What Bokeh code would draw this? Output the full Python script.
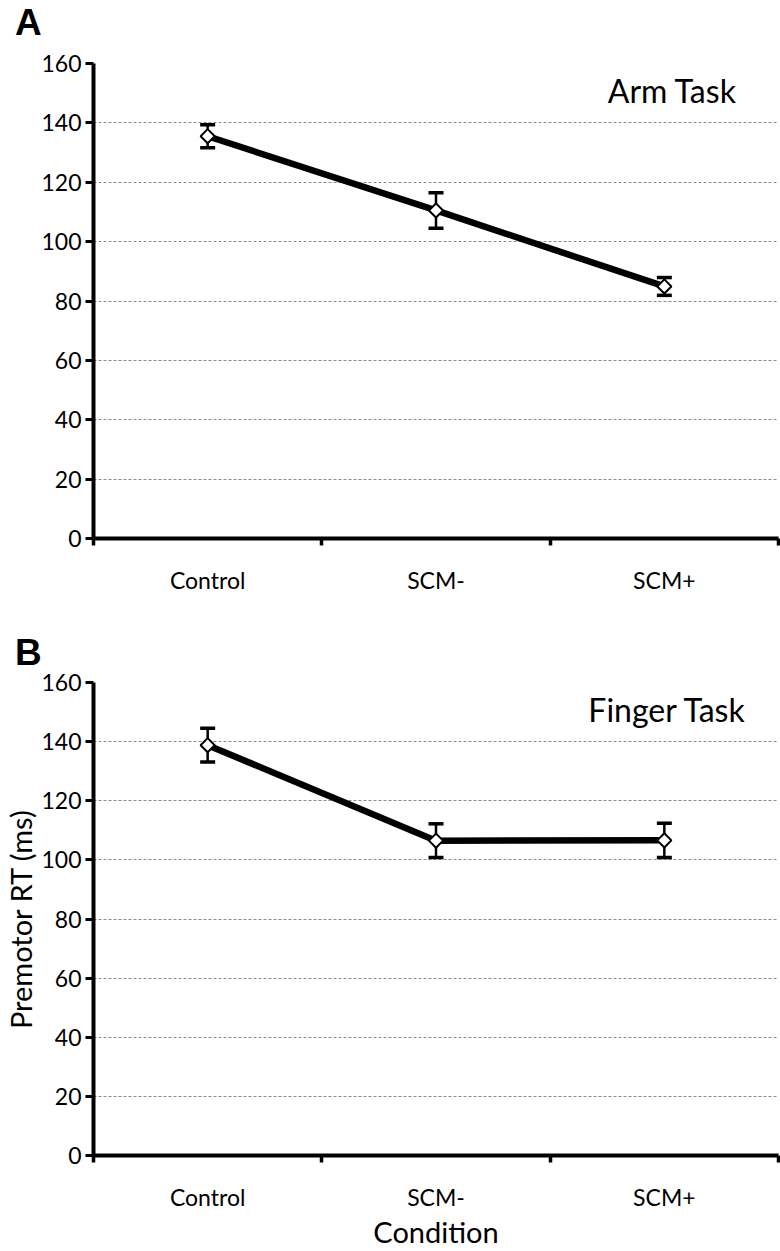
import math
from bokeh.plotting import figure
from bokeh.layouts import column
from bokeh.models import FixedTicker, Range1d, Label, Div
from bokeh.embed import file_html
from bokeh.resources import INLINE

categories = ["Control", "SCM-", "SCM+"]
arm_mean = [135.5, 110.5, 84.9]
arm_err = [3.9, 6.0, 3.0]
finger_mean = [138.8, 106.5, 106.6]
finger_err = [5.7, 5.7, 5.8]
y_ticks = [0, 20, 40, 60, 80, 100, 120, 140, 160]
y_label = "Premotor RT (ms)"
x_label = "Condition"

FONT = "Lato"


def make_panel(means, errs, task, task_dx, height, top, bottom):
    xs = [i + 0.5 for i in range(len(categories))]
    bounds = [float(i) for i in range(len(categories) + 1)]
    p = figure(width=780, height=height,
               x_range=Range1d(0, len(categories)), y_range=Range1d(0, 160),
               output_backend="svg", toolbar_location=None,
               min_border_left=93, min_border_right=2,
               min_border_top=top, min_border_bottom=bottom)
    p.outline_line_color = None
    p.background_fill_color = "white"
    p.border_fill_color = "white"
    p.xgrid.visible = False
    yt = FixedTicker(ticks=y_ticks)
    p.yaxis.ticker = yt
    p.ygrid.ticker = yt
    p.ygrid.grid_line_color = "#8a8a8a"
    p.ygrid.grid_line_dash = "3 2"
    p.ygrid.grid_line_width = 1

    ya = p.yaxis[0]
    ya.axis_line_width = 4
    ya.axis_line_color = "black"
    ya.major_tick_line_width = 3
    ya.major_tick_line_color = "black"
    ya.major_tick_out = 8
    ya.major_tick_in = 0
    ya.minor_tick_line_color = None
    ya.major_label_standoff = 4
    ya.major_label_text_font = FONT
    ya.major_label_text_font_size = "23px"
    ya.major_label_text_color = "black"
    ya.axis_label_text_font = FONT
    ya.axis_label_text_font_size = "29px"
    ya.axis_label_text_font_style = "normal"
    ya.axis_label_text_color = "black"
    ya.axis_label_standoff = 0

    xa = p.xaxis[0]
    xa.ticker = FixedTicker(ticks=xs, minor_ticks=bounds)
    xa.major_label_overrides = {x: c for x, c in zip(xs, categories)}
    xa.axis_line_width = 4
    xa.axis_line_color = "black"
    xa.major_tick_line_color = None
    xa.major_tick_out = 0
    xa.major_tick_in = 0
    xa.minor_tick_out = 7
    xa.minor_tick_in = 0
    xa.minor_tick_line_width = 3.5
    xa.minor_tick_line_color = "black"
    xa.major_label_standoff = 20
    xa.major_label_text_font = FONT
    xa.major_label_text_font_size = "23px"
    xa.major_label_text_color = "black"
    xa.axis_label_text_font = FONT
    xa.axis_label_text_font_size = "29px"
    xa.axis_label_text_font_style = "normal"
    xa.axis_label_text_color = "black"
    xa.axis_label_standoff = 0

    lower = [m - e for m, e in zip(means, errs)]
    upper = [m + e for m, e in zip(means, errs)]
    p.line(xs, means, line_width=6.5, line_color="black")
    p.segment(x0=xs, y0=lower, x1=xs, y1=upper, line_width=2.5, line_color="black")
    p.scatter(xs, upper, marker="dash", size=15, line_width=3.5, line_color="black")
    p.scatter(xs, lower, marker="dash", size=15, line_width=3.5, line_color="black")
    p.scatter(xs, means, marker="square", angle=math.pi / 4, size=10,
              fill_color="white", line_color="black", line_width=2)

    p.add_layout(Label(x=2.5, y=151, x_offset=task_dx, text=task, text_font=FONT,
                       text_font_size="32px", text_align="center",
                       text_baseline="alphabetic", text_color="black"))
    return p


def letter_div(letter, height, pad_top):
    html = ('<div style="font-family:\'Liberation Sans\',Arial,sans-serif;'
            'font-weight:bold;font-size:37px;line-height:37px;color:black;'
            'padding-left:15px;padding-top:%dpx;margin:0;">%s</div>' % (pad_top, letter))
    return Div(text=html, width=780, height=height, margin=(0, 0, 0, 0))


divA = letter_div("A", 40, 4)
pA = make_panel(arm_mean, arm_err, "Arm Task", 8, 585, 23, 87)
divB = letter_div("B", 41, 9)
pB = make_panel(finger_mean, finger_err, "Finger Task", 3, 585, 16, 94)
pB.yaxis[0].axis_label = y_label
pB.xaxis[0].axis_label = x_label

layout = column(divA, pA, divB, pB, spacing=0)
open("out.html", "w").write(file_html(layout, INLINE))
